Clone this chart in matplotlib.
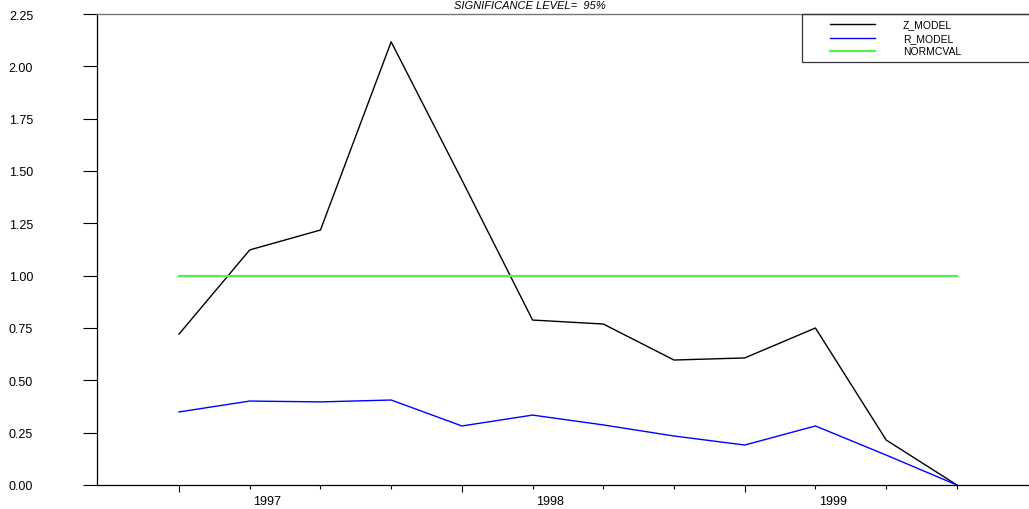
import matplotlib
matplotlib.use("Agg")
import matplotlib.pyplot as plt
from matplotlib.lines import Line2D
from matplotlib.transforms import blended_transform_factory

plt.rcParams['font.family'] = ['Liberation Sans', 'DejaVu Sans']

# Quarterly observations (index 0..11)
quarters = list(range(12))
z_model = [0.721, 1.123, 1.218, 2.117, 1.457, 0.788, 0.769, 0.597, 0.607, 0.750, 0.215, 0.0]
r_model = [0.349, 0.401, 0.397, 0.406, 0.282, 0.334, 0.287, 0.234, 0.191, 0.282, 0.143, 0.0]
normcval = [1.0] * 12

year_labels = ['1997', '1998', '1999']
year_label_pos = [1.25, 5.25, 9.25]
major_ticks = [0, 4, 8]
minor_ticks = [1, 2, 3, 5, 6, 7, 9, 10, 11]
y_ticks = [0.00, 0.25, 0.50, 0.75, 1.00, 1.25, 1.50, 1.75, 2.00, 2.25]

W, H = 1029, 510
fig = plt.figure(figsize=(W / 100, H / 100), dpi=100)
ax = fig.add_axes([97 / W, (H - 486) / H, 1 - 97 / W, (486 - 15) / H])

ax.plot(quarters, z_model, color='black', lw=1.0)
ax.plot(quarters, r_model, color='#0000ff', lw=1.0)
ax.plot(quarters, normcval, color='#55ee55', lw=1.6)

ax.set_xlim(-1.16, 12.02)
ax.set_ylim(0, 2.25)

ax.set_yticks(y_ticks)
ax.set_yticklabels([f'{v:.2f}' for v in y_ticks], fontsize=9)
ax.tick_params(axis='y', direction='out', length=10, width=0.8, pad=36)

ax.set_xticks(major_ticks)
ax.set_xticklabels([])
ax.set_xticks(minor_ticks, minor=True)
ax.tick_params(axis='x', which='major', direction='out', length=5, width=0.8)
ax.tick_params(axis='x', which='minor', direction='out', length=3, width=0.8)

trans = blended_transform_factory(ax.transData, fig.transFigure)
for lab, xp in zip(year_labels, year_label_pos):
    ax.text(xp, (H - 502) / H, lab, transform=trans, ha='center', va='center',
            fontsize=9, clip_on=False)

for s in ['right']:
    ax.spines[s].set_visible(False)
ax.spines['top'].set_color('#777777')
ax.spines['top'].set_linewidth(1.0)
ax.spines['left'].set_linewidth(0.9)
ax.spines['bottom'].set_linewidth(0.9)

fig.text(530 / W, (H - 6) / H, 'SIGNIFICANCE LEVEL=  95%', ha='center', va='center',
         fontsize=8, style='italic')

# Legend box in the upper right corner
series_names = ['Z_MODEL', 'R_MODEL', 'NORMCVAL']
series_colors = ['black', '#0000ff', '#55ee55']
series_lw = [1.0, 1.0, 1.6]
row_y = [25, 39, 52]
box = Line2D([1035 / W, 802 / W, 802 / W, 1035 / W], [(H - 15) / H, (H - 15) / H, (H - 63) / H, (H - 63) / H],
             transform=fig.transFigure, color='#333333', lw=0.9)
fig.add_artist(box)
for name, col, lw, yy in zip(series_names, series_colors, series_lw, row_y):
    fig.add_artist(Line2D([830 / W, 875 / W], [(H - yy) / H] * 2, transform=fig.transFigure,
                          color=col, lw=lw))
    fig.text(903 / W, (H - yy) / H, name, ha='left', va='center', fontsize=7.5)

fig.savefig('out.png', dpi=100)
